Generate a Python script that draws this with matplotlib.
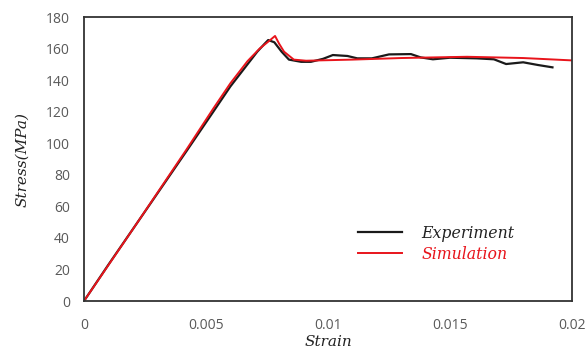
import matplotlib
matplotlib.use("Agg")
import matplotlib.pyplot as plt

exp_strain = [0, 0.001, 0.0022, 0.0042, 0.0053, 0.006, 0.0067, 0.0071, 0.0074, 0.00755, 0.0078,
              0.0081, 0.0084, 0.0089, 0.0093, 0.0098, 0.0102, 0.0108, 0.0112, 0.0118, 0.0125,
              0.0134, 0.0138, 0.0143, 0.015, 0.0161, 0.0168, 0.0173, 0.018, 0.0186, 0.0192]
exp_stress = [0, 23, 50, 95, 120, 136, 150, 158, 163, 165.4, 164,
              158, 153, 151.6, 151.6, 153.5, 155.9, 155.3, 153.8, 153.8, 156.3,
              156.5, 154.4, 153.2, 154.2, 153.8, 153.2, 150.2, 151.3, 149.6, 148.1]

sim_strain = [0, 0.0022, 0.0042, 0.0053, 0.006, 0.0067, 0.0072, 0.0076, 0.00783, 0.0080,
              0.0082, 0.0086, 0.0091, 0.011, 0.013, 0.0157, 0.018, 0.02]
sim_stress = [0, 50, 96, 122, 138, 152, 160, 165, 168, 163,
              158, 153, 152.3, 153, 154, 154.8, 154, 152.5]

xticks = [0, 0.005, 0.01, 0.015, 0.02]
xtick_labels = ["0", "0.005", "0.01", "0.015", "0.02"]
yticks = [0, 20, 40, 60, 80, 100, 120, 140, 160, 180]

fig = plt.figure(figsize=(5.87, 3.53), dpi=100)
ax = fig.add_axes([0.1431, 0.1473, 0.8313, 0.8045])

ax.plot(exp_strain, exp_stress, color="#1a1a1a", lw=1.6, label="Experiment")
ax.plot(sim_strain, sim_stress, color="#e8141b", lw=1.4, label="Simulation")

ax.set_xlim(0, 0.02)
ax.set_ylim(0, 180)
ax.set_xticks(xticks)
ax.set_xticklabels(xtick_labels)
ax.set_yticks(yticks)
ax.tick_params(length=0, labelsize=10, labelcolor="#595959", labelfontfamily="Open Sans")
ax.tick_params(axis="x", pad=12)
ax.tick_params(axis="y", pad=10)

for s in ax.spines.values():
    s.set_color("#333333")
    s.set_linewidth(1.3)

ax.set_xlabel("Strain", fontsize=11, fontstyle="italic", family="DejaVu Serif", color="#222222", labelpad=2)
ax.set_ylabel("Stress(MPa)", fontsize=11, fontstyle="italic", family="DejaVu Serif", color="#222222", labelpad=12)

leg = ax.legend(loc="upper left", bbox_to_anchor=(0.532, 0.318), frameon=False,
                handlelength=2.8, handletextpad=1.25, labelspacing=0.25,
                prop={"family": "DejaVu Serif", "style": "italic", "size": 11.3})
for txt, c in zip(leg.get_texts(), ["#222222", "#e8141b"]):
    txt.set_color(c)

fig.savefig("out.png", dpi=100)
